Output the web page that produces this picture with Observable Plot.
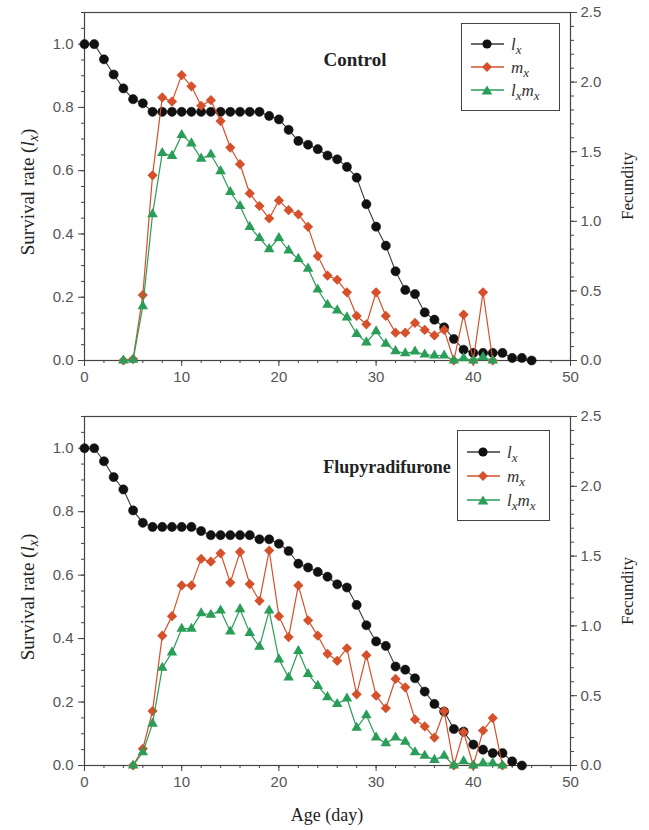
<!DOCTYPE html>
<html>
<head>
<meta charset="utf-8">
<script src="https://cdn.jsdelivr.net/npm/d3@7"></script>
<script src="https://cdn.jsdelivr.net/npm/@observablehq/plot@0.6"></script>
<style>
  body { margin: 0; background: #fff; }
  #root { position: relative; width: 649px; height: 830px; overflow: hidden; background: #fff; }
  .panel { position: absolute; left: 0; width: 649px; }
  .panel > svg { position: absolute; left: 0; top: 0; }
  .ov { position: absolute; white-space: nowrap; font-family: "Liberation Serif", "Times New Roman", serif; color: #222; }
  .rot { transform: translate(-50%, -50%) rotate(-90deg); }
  .title { font-weight: bold; transform: translate(-50%, -50%); }
  .legend { position: absolute; border: 1.2px solid #444; background: #fff; box-sizing: border-box; }
  .legend .row { position: absolute; left: 8px; height: 20px; display: flex; align-items: center; }
  .legend .row svg { display: block; }
  .legend .lab { font-family: "Liberation Serif", serif; font-style: italic; font-size: 17px; color: #333; margin-left: 6px; line-height: 17px; }
  .legend sub { font-size: 13px; vertical-align: -4px; line-height: 0; }
</style>
</head>
<body>
<div id="root"></div>
<script>
// ---------- data ----------
const controlLxAge = [0,1,2,3,4,5,6,7,8,9,10,11,12,13,14,15,16,17,18,19,20,21,22,23,24,25,26,27,28,29,30,31,32,33,34,35,36,37,38,39,40,41,42,43,44,45,46];
const controlLx = [1,1,0.952,0.904,0.86,0.826,0.813,0.786,0.786,0.786,0.786,0.786,0.786,0.786,0.786,0.786,0.786,0.786,0.786,0.773,0.762,0.729,0.694,0.682,0.668,0.648,0.636,0.612,0.578,0.494,0.423,0.363,0.282,0.223,0.21,0.152,0.129,0.105,0.068,0.034,0.024,0.024,0.024,0.024,0.008,0.008,0];
const controlMxAge = [4,5,6,7,8,9,10,11,12,13,14,15,16,17,18,19,20,21,22,23,24,25,26,27,28,29,30,31,32,33,34,35,36,37,38,39,40,41,42];
const controlMx = [0,0.01,0.47,1.33,1.89,1.86,2.05,1.97,1.83,1.87,1.72,1.53,1.41,1.2,1.11,1.02,1.15,1.08,1.05,0.96,0.75,0.61,0.58,0.49,0.32,0.26,0.49,0.32,0.2,0.2,0.27,0.22,0.18,0.22,0,0.33,0,0.49,0];
const controlLxMx = [0,0.005,0.39,1.05,1.49,1.47,1.62,1.56,1.45,1.48,1.36,1.21,1.11,0.96,0.88,0.8,0.88,0.79,0.73,0.66,0.51,0.4,0.36,0.31,0.19,0.13,0.21,0.12,0.067,0.052,0.064,0.043,0.036,0.036,0,0.017,0,0.024,0];

const flupyLxAge = [0,1,2,3,4,5,6,7,8,9,10,11,12,13,14,15,16,17,18,19,20,21,22,23,24,25,26,27,28,29,30,31,32,33,34,35,36,37,38,39,40,41,42,43,44,45];
const flupyLx = [1,1,0.959,0.909,0.87,0.804,0.765,0.752,0.752,0.752,0.752,0.752,0.739,0.726,0.726,0.726,0.726,0.726,0.713,0.713,0.699,0.676,0.636,0.624,0.61,0.595,0.571,0.561,0.506,0.442,0.391,0.377,0.312,0.302,0.275,0.233,0.194,0.17,0.115,0.107,0.066,0.05,0.039,0.039,0.013,0];
const flupyMxAge = [5,6,7,8,9,10,11,12,13,14,15,16,17,18,19,20,21,22,23,24,25,26,27,28,29,30,31,32,33,34,35,36,37,38,39,40,41,42,43];
const flupyMx = [0,0.12,0.39,0.93,1.07,1.29,1.29,1.48,1.46,1.52,1.31,1.53,1.3,1.18,1.54,1.07,0.92,1.29,1.04,0.93,0.8,0.75,0.84,0.51,0.79,0.5,0.41,0.62,0.56,0.33,0.28,0.2,0.39,0,0.24,0,0.25,0.34,0];
const flupyLxMx = [0,0.095,0.3,0.7,0.81,0.98,0.98,1.09,1.08,1.11,0.96,1.12,0.95,0.85,1.11,0.76,0.63,0.82,0.655,0.57,0.49,0.44,0.48,0.27,0.36,0.2,0.16,0.2,0.17,0.095,0.07,0.04,0.07,0,0.03,0,0.017,0.017,0];

const xMajorTicks = [0,10,20,30,40,50];
const xMinorTicks = d3.range(0, 51, 2);
const leftMajorTicks = [0,0.2,0.4,0.6,0.8,1.0];
const leftMinorTicks = d3.range(0, 1.101, 0.05);
const rightMajorTicks = [0,0.5,1.0,1.5,2.0,2.5];
const rightMinorTicks = d3.range(0, 2.501, 0.1);

const COL_LX = "#111111", COL_MX = "#d6502b", COL_LXMX = "#2a9d58";
const LINE_LX = "#3a3a3a";

// ---------- drawing ----------
const root = document.getElementById("root");
const W = 649, ML = 84, MR = 79;
const fmt1 = d3.format(".1f");

function panel({top, height, marginTop, marginBottom, lxAge, lx, mxAge, mx, lxmx, title, titleX, titleY, titleSize, legendBox}) {
  const div = document.createElement("div");
  div.className = "panel";
  div.style.top = top + "px";
  div.style.height = height + "px";
  root.appendChild(div);

  const lxData = lxAge.map((a, i) => ({age: a, v: lx[i]}));
  const mxData = mxAge.map((a, i) => ({age: a, v: mx[i]}));
  const lxmxData = mxAge.map((a, i) => ({age: a, v: lxmx[i]}));

  const common = {
    width: W, height, marginLeft: ML, marginRight: MR, marginTop, marginBottom,
    style: {background: "transparent", fontFamily: "'Liberation Sans', Arial, sans-serif", fontSize: "15px", color: "#555", overflow: "visible"},
    x: {domain: [0, 50]}
  };

  const left = Plot.plot({
    ...common,
    y: {domain: [0, 1.1]},
    marks: [
      Plot.frame({stroke: "#444", strokeWidth: 1.2}),
      Plot.axisX({ticks: xMajorTicks, tickSize: 6, tickPadding: 5, label: null, stroke: "#444", fill: "#555"}),
      Plot.axisX({ticks: xMinorTicks, tickSize: 3, text: null, label: null, stroke: "#444"}),
      Plot.axisY({ticks: leftMajorTicks, tickFormat: fmt1, tickSize: 6, tickPadding: 5, label: null, stroke: "#444", fill: "#555"}),
      Plot.axisY({ticks: leftMinorTicks, tickSize: 3, text: null, label: null, stroke: "#444"}),
      Plot.line(lxData, {x: "age", y: "v", stroke: LINE_LX, strokeWidth: 1.1}),
      Plot.dot(lxData, {x: "age", y: "v", fill: COL_LX, stroke: COL_LX, strokeWidth: 0.5, r: 4.6, symbol: "circle"})
    ]
  });
  div.appendChild(left);

  const right = Plot.plot({
    ...common,
    x: {domain: [0, 50], axis: null},
    y: {domain: [0, 2.5]},
    marks: [
      Plot.axisY({anchor: "right", ticks: rightMajorTicks, tickFormat: fmt1, tickSize: 6, tickPadding: 4, label: null, stroke: "#444", fill: "#555"}),
      Plot.axisY({anchor: "right", ticks: rightMinorTicks, tickSize: 3, text: null, label: null, stroke: "#444"}),
      Plot.line(mxData, {x: "age", y: "v", stroke: COL_MX, strokeWidth: 1.2}),
      Plot.dot(mxData, {x: "age", y: "v", fill: COL_MX, r: 4.6, symbol: "diamond2"}),
      Plot.line(lxmxData, {x: "age", y: "v", stroke: COL_LXMX, strokeWidth: 1.2}),
      Plot.dot(lxmxData, {x: "age", y: "v", fill: COL_LXMX, r: 3.9, symbol: "triangle"})
    ]
  });
  div.appendChild(right);

  const plotMid = marginTop + (height - marginTop - marginBottom) / 2;

  // y-axis titles
  const yl = document.createElement("div");
  yl.className = "ov rot";
  yl.style.left = "29px"; yl.style.top = (plotMid + 6) + "px"; yl.style.fontSize = "19px";
  yl.innerHTML = 'Survival rate (<i>l</i><sub style="font-size:14px;vertical-align:-4px"><i>x</i></sub>)';
  div.appendChild(yl);

  const yr = document.createElement("div");
  yr.className = "ov rot";
  yr.style.left = "628px"; yr.style.top = plotMid + "px"; yr.style.fontSize = "17px";
  yr.textContent = "Fecundity";
  div.appendChild(yr);

  // panel title
  const t = document.createElement("div");
  t.className = "ov title";
  t.style.left = titleX + "px"; t.style.top = titleY + "px"; t.style.fontSize = titleSize + "px";
  t.textContent = title;
  div.appendChild(t);

  // legend
  const lg = document.createElement("div");
  lg.className = "legend";
  lg.style.left = legendBox.x + "px"; lg.style.top = legendBox.y + "px";
  lg.style.width = legendBox.w + "px"; lg.style.height = legendBox.h + "px";
  const items = [
    {line: LINE_LX, sym: `<circle cx="17" cy="7" r="4.6" fill="${COL_LX}"/>`, lab: '<i>l</i><sub><i>x</i></sub>'},
    {line: COL_MX, sym: `<path d="M17,2 L22,7 L17,12 L12,7 Z" fill="${COL_MX}"/>`, lab: '<i>m</i><sub><i>x</i></sub>'},
    {line: COL_LXMX, sym: `<path d="M17,2.5 L22.3,11.5 L11.7,11.5 Z" fill="${COL_LXMX}"/>`, lab: '<i>l</i><sub><i>x</i></sub><i>m</i><sub><i>x</i></sub>'}
  ];
  items.forEach((it, i) => {
    const row = document.createElement("div");
    row.className = "row";
    row.style.top = (legendBox.rowStart + i * legendBox.rowGap - 10) + "px";
    row.innerHTML = `<svg width="35" height="14"><line x1="1" x2="34" y1="7" y2="7" stroke="${it.line}" stroke-width="1.3"/>${it.sym}</svg><span class="lab">${it.lab}</span>`;
    lg.appendChild(row);
  });
  div.appendChild(lg);
}

panel({top: 0, height: 400, marginTop: 12, marginBottom: 40,
  lxAge: controlLxAge, lx: controlLx, mxAge: controlMxAge, mx: controlMx, lxmx: controlLxMx,
  title: "Control", titleX: 355, titleY: 60, titleSize: 19,
  legendBox: {x: 461, y: 23, w: 99, h: 88, rowStart: 20, rowGap: 23}});

panel({top: 400, height: 430, marginTop: 16, marginBottom: 65,
  lxAge: flupyLxAge, lx: flupyLx, mxAge: flupyMxAge, mx: flupyMx, lxmx: flupyLxMx,
  title: "Flupyradifurone", titleX: 387, titleY: 67, titleSize: 18,
  legendBox: {x: 457, y: 30, w: 93, h: 91, rowStart: 21, rowGap: 24}});

// x-axis title
const xl = document.createElement("div");
xl.className = "ov title";
xl.style.left = "327px"; xl.style.top = "815px"; xl.style.fontSize = "18px"; xl.style.fontWeight = "normal";
xl.textContent = "Age (day)";
root.appendChild(xl);
</script>
</body>
</html>
